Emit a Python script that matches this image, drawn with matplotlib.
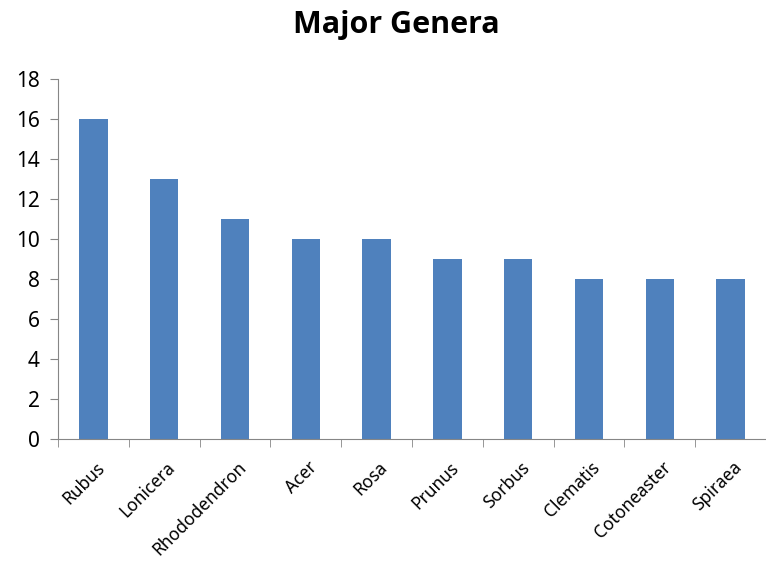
import matplotlib.pyplot as plt
import matplotlib.transforms as mtransforms
import numpy as np

genera = ['Rubus', 'Lonicera', 'Rhododendron', 'Acer', 'Rosa',
          'Prunus', 'Sorbus', 'Clematis', 'Cotoneaster', 'Spiraea']
counts = [16, 13, 11, 10, 10, 9, 9, 8, 8, 8]
y_ticks = [0, 2, 4, 6, 8, 10, 12, 14, 16, 18]

plt.rcParams['font.family'] = ['Noto Sans', 'DejaVu Sans']

fig = plt.figure(figsize=(7.66, 5.62), dpi=100)
ax = fig.add_axes([58 / 766, 1 - 439 / 562, 1 - 58 / 766, (439 - 79) / 562])

x = np.arange(len(genera))
ax.bar(x, counts, width=0.4, color='#4F81BD')

ax.set_xlim(-0.5, len(genera) - 0.5)
ax.set_ylim(0, 18)
ax.set_yticks(y_ticks)
ax.tick_params(axis='y', labelsize=15, length=6, color='#868686', pad=7)

# category labels at centers, tick marks at category boundaries
ax.set_xticks(x)
ax.set_xticklabels(genera, rotation=45, ha='right', rotation_mode='anchor', fontsize=12.5)
ax.tick_params(axis='x', which='major', length=0, pad=14)
ax.set_xticks(np.arange(len(genera) + 1) - 0.5, minor=True)
ax.tick_params(axis='x', which='minor', length=6, color='#868686')
offset = mtransforms.ScaledTranslation(2 / 100, 0, fig.dpi_scale_trans)
for lbl in ax.get_xticklabels():
    lbl.set_transform(lbl.get_transform() + offset)

for side in ['top', 'right']:
    ax.spines[side].set_visible(False)
for side in ['left', 'bottom']:
    ax.spines[side].set_color('#868686')

fig.text(396 / 766, 1 - 25 / 562, 'Major Genera', ha='center', va='center',
         fontsize=22, fontweight='bold', family='Open Sans')

fig.savefig('out.png', dpi=100)
